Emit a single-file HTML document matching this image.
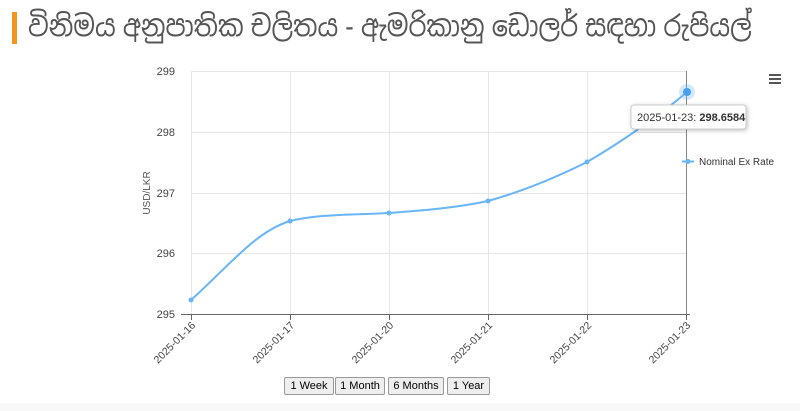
<!DOCTYPE html>
<html><head><meta charset="utf-8"><style>
body{margin:0;width:800px;height:411px;background:#fff;overflow:hidden;font-family:"Liberation Sans",sans-serif}
.t{position:absolute;left:12px;top:12px;border-left:5px solid #f7941d;height:32px}
.tt{position:absolute;left:28px;top:8px;font-size:29px;color:#555;font-family:"Liberation Sans","Noto Sans Sinhala","Iskoola Pota",sans-serif;white-space:nowrap;transform-origin:0 0;transform:scaleX(0.88)}
.b{position:absolute;top:377px;height:16px;border:1px solid #999;border-radius:2px;background:#eee;font-size:11px;line-height:16px;text-align:center;color:#000}
</style></head><body>
<div class="t"></div><div class="tt">විනිමය අනුපාතික චලිතය - ඇමරිකානු ඩොලර් සඳහා රුපියල්</div>
<svg width="800" height="411" style="position:absolute;left:0;top:0">
<rect x="0" y="403" width="800" height="8" fill="#f8f8f8"/>
<g stroke="#e6e6e6" stroke-width="1">
<line x1="191" y1="71.5" x2="687" y2="71.5"/><line x1="191" y1="132.5" x2="687" y2="132.5"/><line x1="191" y1="193.5" x2="687" y2="193.5"/><line x1="191" y1="253.5" x2="687" y2="253.5"/>
<line x1="191.5" y1="71" x2="191.5" y2="314"/><line x1="290.5" y1="71" x2="290.5" y2="314"/><line x1="389.5" y1="71" x2="389.5" y2="314"/><line x1="488.5" y1="71" x2="488.5" y2="314"/><line x1="587.5" y1="71" x2="587.5" y2="314"/>
</g>
<line x1="686.5" y1="71" x2="686.5" y2="314" stroke="#888"/>
<line x1="181" y1="314.5" x2="690" y2="314.5" stroke="#666"/>
<g stroke="#666"><line x1="191.5" y1="314" x2="191.5" y2="320"/><line x1="290.5" y1="314" x2="290.5" y2="320"/><line x1="389.5" y1="314" x2="389.5" y2="320"/><line x1="488.5" y1="314" x2="488.5" y2="320"/><line x1="587.5" y1="314" x2="587.5" y2="320"/><line x1="686.5" y1="314" x2="686.5" y2="320"/></g>
<g font-size="11" fill="#444" text-anchor="end"><text x="175" y="75">299</text><text x="175" y="136">298</text><text x="175" y="197">297</text><text x="175" y="257">296</text><text x="175" y="318">295</text></g>
<text transform="translate(150 193) rotate(-90)" font-size="10" fill="#555" text-anchor="middle">USD/LKR</text>
<g font-size="10.5" fill="#444" text-anchor="end">
<text transform="translate(196 326) rotate(-45)">2025-01-16</text>
<text transform="translate(295 326) rotate(-45)">2025-01-17</text>
<text transform="translate(394 326) rotate(-45)">2025-01-20</text>
<text transform="translate(493 326) rotate(-45)">2025-01-21</text>
<text transform="translate(592 326) rotate(-45)">2025-01-22</text>
<text transform="translate(691 326) rotate(-45)">2025-01-23</text>
</g>
<path d="M191,300 C230,265 255,232 290,221 C320,214 350,215 389,213 C430,210 460,207 488,201 C520,192 555,178 587,162 C620,143 660,115 687,92" fill="none" stroke="#68b5f7" stroke-width="2"/>
<g fill="#68b5f7"><circle cx="191" cy="300" r="2.5"/><circle cx="290" cy="221" r="2.5"/><circle cx="389" cy="213" r="2.5"/><circle cx="488" cy="201" r="2.5"/><circle cx="587" cy="162" r="2.5"/></g>
<circle cx="687" cy="92" r="8" fill="#68b5f7" opacity="0.3"/><circle cx="687" cy="92" r="4" fill="#4a9ef0"/>
<g fill="#555"><rect x="769" y="74" width="12" height="2"/><rect x="769" y="78" width="12" height="2"/><rect x="769" y="82" width="12" height="2"/></g>
<rect x="631" y="105" width="115" height="24" rx="3" fill="#fff" stroke="#ccc" style="filter:drop-shadow(1px 1px 2px rgba(0,0,0,.25))"/>
<text x="637" y="121" font-size="11" fill="#333">2025-01-23: <tspan font-weight="bold">298.6584</tspan></text>
<line x1="682" y1="161.5" x2="694" y2="161.5" stroke="#68b5f7" stroke-width="2"/><circle cx="688" cy="161.5" r="2.5" fill="#68b5f7"/>
<text x="699" y="165" font-size="10" fill="#333">Nominal Ex Rate</text>
</svg>
<div class="b" style="left:284px;width:48px">1 Week</div>
<div class="b" style="left:335px;width:48px">1 Month</div>
<div class="b" style="left:388px;width:54px">6 Months</div>
<div class="b" style="left:447px;width:41px">1 Year</div>
</body></html>
